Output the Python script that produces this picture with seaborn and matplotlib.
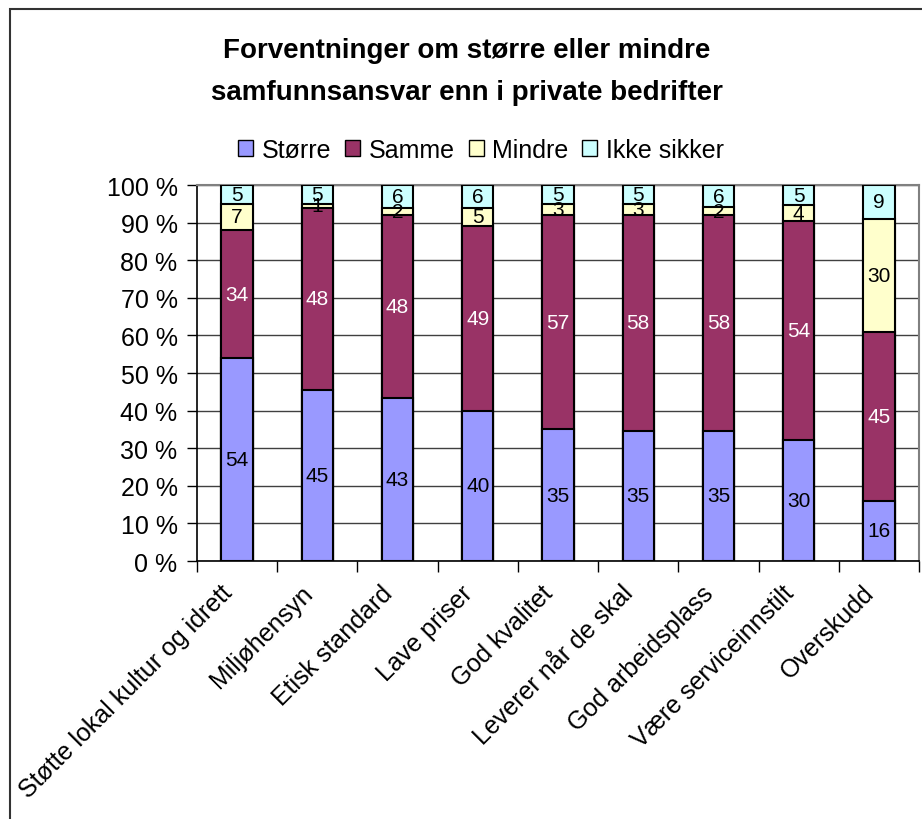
import matplotlib
matplotlib.use("Agg")
import matplotlib.pyplot as plt
import matplotlib.transforms as mtransforms
import seaborn as sns
import numpy as np
import pandas as pd
from matplotlib.patches import Rectangle, Patch

categories = ["Støtte lokal kultur og idrett", "Miljøhensyn", "Etisk standard",
              "Lave priser", "God kvalitet", "Leverer når de skal",
              "God arbeidsplass", "Være serviceinnstilt", "Overskudd"]
storre = [54, 45, 43, 40, 35, 35, 35, 30, 16]
samme = [34, 48, 48, 49, 57, 58, 58, 54, 45]
mindre = [7, 1, 2, 5, 3, 3, 2, 4, 30]
ikke_sikker = [5, 5, 6, 6, 5, 5, 6, 5, 9]
series_names = ["Større", "Samme", "Mindre", "Ikke sikker"]
colors = ["#9999FF", "#993366", "#FFFFCC", "#CCFFFF"]
label_colors = ["black", "white", "black", "black"]
title = "Forventninger om større eller mindre\nsamfunnsansvar enn i private bedrifter"
yticks = list(range(0, 101, 10))

sns.set_theme(style="white")
plt.rcParams['font.family'] = ['Liberation Sans', 'DejaVu Sans']
plt.rcParams['text.color'] = 'black'
plt.rcParams['xtick.color'] = 'black'
plt.rcParams['ytick.color'] = 'black'
plt.rcParams['axes.labelcolor'] = 'black'

vals = np.array([storre, samme, mindre, ikke_sikker], dtype=float)
totals = vals.sum(axis=0)
pct = vals / totals * 100
cum = np.cumsum(pct, axis=0)

fig = plt.figure(figsize=(9.22, 8.2), dpi=100)
ax = fig.add_axes([197/922, 1-562/820, (919-197)/922, (562-186)/820])

for i in range(3, -1, -1):
    df = pd.DataFrame({"cat": categories, "v": cum[i]})
    sns.barplot(data=df, x="cat", y="v", color=colors[i], width=0.39,
                edgecolor="black", linewidth=1.5, saturation=1, ax=ax, zorder=3)

for i in range(4):
    for j in range(len(categories)):
        mid = cum[i][j] - pct[i][j] / 2
        ax.text(j, mid, f"{int(vals[i][j])}", ha="center", va="center",
                fontsize=15, color=label_colors[i], zorder=5)

ax.set_xlim(-0.5, len(categories) - 0.5)
ax.set_ylim(0, 100)
ax.set_yticks(yticks)
ax.set_yticklabels([f"{t} %" for t in yticks], fontsize=18, color="black")
ax.yaxis.grid(True, color="#404040", linewidth=1)
ax.set_axisbelow(True)
ax.tick_params(axis="y", length=7, width=1, color="black", direction="out", left=True, pad=7)
ax.set_xticks(range(len(categories)))
ax.set_xticklabels(categories, rotation=45, ha="right", rotation_mode="anchor",
                   fontsize=18, color="black")
ax.tick_params(axis="x", length=0, pad=14)
offset = mtransforms.ScaledTranslation(-0.17, 0.0, fig.dpi_scale_trans)
for lbl in ax.get_xticklabels():
    lbl.set_transform(lbl.get_transform() + offset)
ax.set_xticks(np.arange(-0.5, len(categories), 1), minor=True)
ax.tick_params(axis="x", which="minor", length=8, width=1, color="black", bottom=True)
ax.set_xlabel("")
ax.set_ylabel("")
for s in ["left", "bottom"]:
    ax.spines[s].set_color("black")
    ax.spines[s].set_linewidth(1.2)
for s in ["top", "right"]:
    ax.spines[s].set_color("#808080")
    ax.spines[s].set_linewidth(1.5)

fig.text(467/922, 1-72/820, title, ha="center", va="center", fontsize=20,
         fontweight="bold", linespacing=1.8, color="black")

handles = [Patch(facecolor=c, edgecolor="black", linewidth=1) for c in colors]
fig.legend(handles, series_names, loc="center", bbox_to_anchor=(481/922, 1-151/820),
           ncol=4, frameon=False, fontsize=18, handlelength=0.6, handleheight=0.6,
           handletextpad=0.35, columnspacing=0.55, labelcolor="black")

fig.patches.append(Rectangle((10/922, -0.1), 1.2, (820-10)/820 + 0.1,
                             transform=fig.transFigure, fill=False,
                             edgecolor="#333333", linewidth=1.5, clip_on=False))

fig.savefig("out.png", dpi=100)
